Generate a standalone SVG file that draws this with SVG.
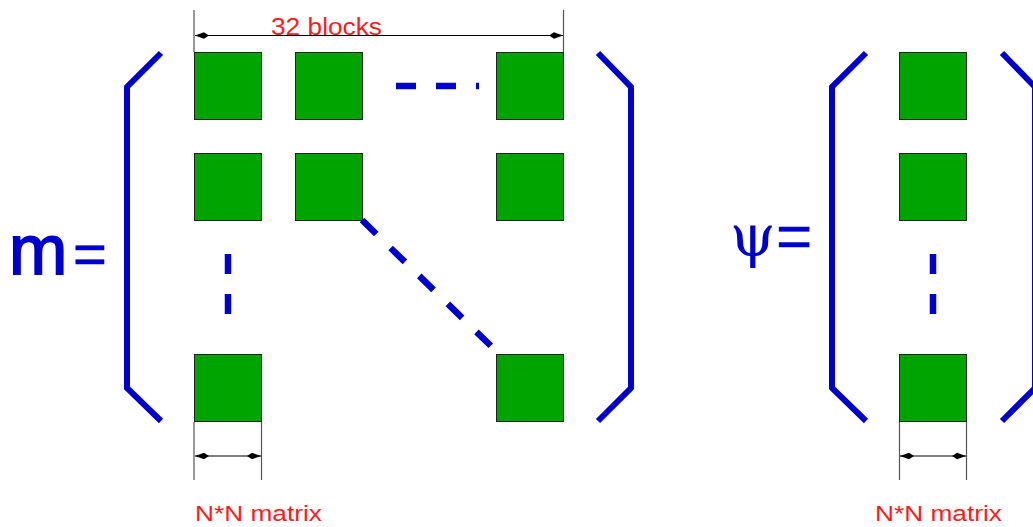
<svg xmlns="http://www.w3.org/2000/svg" width="1033" height="527" viewBox="0 0 1033 527">
<style>
.blk{fill:#00a400;stroke:#222;stroke-width:1}
.br{fill:none;stroke:#0000cc;stroke-width:6;stroke-linejoin:miter}
.dash{fill:none;stroke:#0000cc;stroke-width:6.5;stroke-dasharray:20 20}
.ext{stroke:#555;stroke-width:1.2}
.dim{stroke:#000;stroke-width:1}
.lbl{font-family:"Liberation Sans",Arial,sans-serif;fill:#ff1a1a}
.sym{font-family:"Liberation Sans",Arial,sans-serif;fill:#0000cc;stroke:#0000cc}
.psi{font-family:"DejaVu Serif","Liberation Serif",serif;fill:#0000cc}
</style>
<defs>
<marker id="ah" viewBox="0 -4 15 8" refX="14" refY="0" markerWidth="15" markerHeight="8" markerUnits="userSpaceOnUse" orient="auto-start-reverse">
<path d="M14,0 L5,-3.2 L0,0 L5,3.2 Z" fill="#000"/>
</marker>
</defs>
<rect width="1033" height="527" fill="#fff"/>
<g id="m-label"><text class="sym" x="9" y="274" font-size="70" stroke-width="1.8">m</text><text class="sym" x="73" y="274" font-size="58" stroke-width="0.5">=</text></g>
<g id="psi-label"><text class="psi" x="730" y="256" font-size="58">ψ</text><text class="sym" x="776" y="257" font-size="62" stroke-width="0.4">=</text></g>
<g id="m-brackets">
<polyline class="br" points="161,53 127,87 127,388 161,421"/>
<polyline class="br" points="598,53 631,87 631,388 598,421"/>
</g>
<g id="psi-brackets">
<polyline class="br" points="866,53 832,87 832,388 866,421"/>
<polyline class="br" points="1002,53 1035,87 1035,388 1002,421"/>
</g>
<g id="m-blocks">
<rect class="blk" x="194.5" y="52.5" width="67" height="67"/>
<rect class="blk" x="295.5" y="52.5" width="67" height="67"/>
<rect class="blk" x="496.5" y="52.5" width="67" height="67"/>
<rect class="blk" x="194.5" y="153.5" width="67" height="67"/>
<rect class="blk" x="295.5" y="153.5" width="67" height="67"/>
<rect class="blk" x="496.5" y="153.5" width="67" height="67"/>
<rect class="blk" x="194.5" y="354.5" width="67" height="67"/>
<rect class="blk" x="496.5" y="354.5" width="67" height="67"/>
</g>
<g id="psi-blocks">
<rect class="blk" x="899.5" y="52.5" width="67" height="67"/>
<rect class="blk" x="899.5" y="153.5" width="67" height="67"/>
<rect class="blk" x="899.5" y="354.5" width="67" height="67"/>
</g>
<g id="connectors">
<line class="dash" x1="396" y1="86" x2="479" y2="86"/>
<line class="dash" x1="228" y1="254" x2="228" y2="315"/>
<line class="dash" x1="362" y1="220" x2="492" y2="347"/>
<line class="dash" x1="933" y1="254" x2="933" y2="315"/>
<line class="ext" x1="194" y1="10" x2="194" y2="52"/>
<line class="ext" x1="563.5" y1="10" x2="563.5" y2="52"/>
<line class="dim" x1="195" y1="35.5" x2="563" y2="35.5" marker-start="url(#ah)" marker-end="url(#ah)"/>
<line class="ext" x1="194" y1="422" x2="194" y2="480"/>
<line class="ext" x1="261.5" y1="422" x2="261.5" y2="480"/>
<line class="dim" x1="195" y1="456" x2="261" y2="456" marker-start="url(#ah)" marker-end="url(#ah)"/>
<line class="ext" x1="899.5" y1="422" x2="899.5" y2="480"/>
<line class="ext" x1="966.5" y1="422" x2="966.5" y2="480"/>
<line class="dim" x1="900" y1="456" x2="966" y2="456" marker-start="url(#ah)" marker-end="url(#ah)"/>
</g>
<g id="labels">
<text class="lbl" x="271" y="35" font-size="23" textLength="111" lengthAdjust="spacingAndGlyphs">32 blocks</text>
<text class="lbl" x="195" y="521" font-size="22" textLength="127" lengthAdjust="spacingAndGlyphs">N*N matrix</text>
<text class="lbl" x="875" y="521" font-size="22" textLength="127" lengthAdjust="spacingAndGlyphs">N*N matrix</text>
</g>
</svg>
